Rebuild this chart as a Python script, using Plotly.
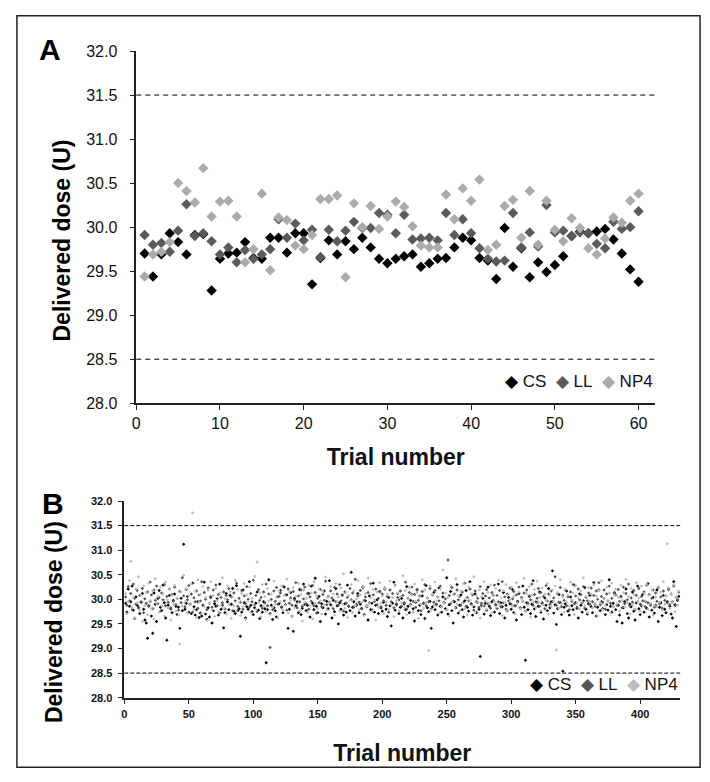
import plotly.graph_objects as go

# ---- panel A: first 60 trials ----
trial_a = list(range(1, 61))
cs_a = [29.70, 29.44, 29.69, 29.93, 29.83, 29.69, 29.91, 29.92, 29.28, 29.64,
        29.70, 29.71, 29.83, 29.65, 29.64, 29.88, 29.88, 29.71, 29.93, 29.93,
        29.35, 29.65, 29.85, 29.69, 29.84, 29.75, 29.88, 29.77, 29.64, 29.59,
        29.64, 29.67, 29.69, 29.55, 29.59, 29.64, 29.65, 29.77, 29.88, 29.85,
        29.65, 29.62, 29.41, 29.99, 29.55, 29.76, 29.43, 29.60, 29.49, 29.57,
        29.67, 29.90, 29.95, 29.93, 29.95, 29.98, 29.86, 29.70, 29.52, 29.38]
ll_a = [29.91, 29.80, 29.82, 29.72, 29.96, 30.26, 29.90, 29.93, 29.84, 29.69,
        29.77, 29.60, 29.74, 29.64, 29.69, 29.75, 30.09, 29.88, 30.04, 29.85,
        29.97, 29.66, 29.97, 29.84, 29.96, 30.06, 29.99, 29.99, 30.16, 30.14,
        29.93, 30.14, 29.86, 29.87, 29.88, 29.85, 30.16, 29.91, 30.09, 29.93,
        29.76, 29.64, 29.61, 29.62, 30.16, 29.77, 29.94, 29.78, 30.25, 29.94,
        29.96, 29.90, 29.94, 29.93, 29.81, 29.76, 30.06, 29.98, 30.00, 30.18]
np4_a = [29.44, 29.69, 29.72, 29.83, 30.50, 30.41, 30.28, 30.67, 30.12, 30.29,
         30.30, 30.12, 29.60, 29.75, 30.38, 29.51, 30.11, 30.08, 29.79, 29.75,
         29.91, 30.32, 30.32, 30.36, 29.43, 30.27, 30.00, 30.24, 29.98, 30.12,
         30.29, 30.23, 30.01, 29.79, 29.77, 29.77, 30.37, 30.09, 30.44, 30.30,
         30.54, 29.74, 29.80, 30.24, 30.31, 29.88, 30.41, 29.80, 30.30, 29.97,
         29.84, 30.10, 29.99, 29.76, 29.69, 29.87, 30.11, 30.05, 30.30, 30.38]

# ---- panel B: all 430 trials ----
cs_b = [29.92, 29.74, 30.21, 29.86, 29.95, 30.27, 29.78, 29.61, 30.05, 29.88, 29.83, 29.71, 29.94, 30.12, 29.80, 29.58, 29.52, 29.21, 29.87, 29.96,
        29.66, 29.31, 30.13, 29.90, 29.55, 30.02, 30.18, 29.84, 29.77, 30.29, 29.93, 29.62, 29.17, 29.88, 30.08, 29.81, 29.73, 29.98, 30.11, 29.86,
        29.69, 29.84, 29.41, 30.02, 29.77, 31.12, 29.80, 29.92, 30.06, 29.74, 29.90, 29.71, 30.33, 29.85, 29.68, 29.79, 29.95, 29.63, 29.72, 29.66,
        29.88, 30.35, 29.70, 29.59, 29.83, 29.64, 30.04, 29.52, 29.77, 29.91, 29.86, 30.01, 29.68, 30.31, 29.80, 29.88, 29.42, 29.73, 30.12, 29.95,
        29.79, 30.08, 29.90, 30.22, 29.76, 29.71, 30.28, 29.77, 29.81, 29.25, 29.74, 30.19, 29.93, 29.62, 29.85, 29.80, 30.36, 29.88, 29.75, 29.69,
        29.83, 29.92, 30.15, 29.78, 29.61, 29.87, 29.74, 29.95, 29.81, 28.71, 29.79, 30.40, 29.71, 29.88, 29.59, 29.83, 29.77, 29.64, 30.05, 29.91,
        30.18, 29.84, 29.73, 30.25, 29.89, 30.09, 29.41, 29.80, 30.14, 29.66, 29.35, 30.02, 29.87, 29.95, 29.73, 30.20, 29.69, 29.82, 30.31, 29.90,
        29.77, 29.88, 30.12, 29.64, 30.27, 29.92, 29.79, 30.43, 29.86, 29.73, 30.06, 29.55, 29.91, 29.83, 30.17, 29.70, 29.96, 29.81, 30.38, 29.89,
        29.62, 29.98, 29.75, 30.22, 29.87, 29.50, 29.93, 29.80, 30.09, 29.68, 29.91, 29.74, 30.29, 29.86, 29.77, 30.55, 29.84, 29.95, 29.66, 29.88,
        30.12, 29.73, 29.90, 29.81, 30.24, 29.69, 29.97, 29.85, 29.58, 30.07, 29.79, 29.92, 30.33, 29.74, 29.88, 29.99, 29.71, 30.16, 29.83, 29.76,
        29.94, 30.21, 29.80, 29.65, 30.04, 29.87, 29.46, 29.92, 30.35, 29.78, 29.89, 30.12, 29.71, 29.84, 30.02, 29.62, 29.91, 29.79, 30.26, 29.86,
        29.73, 29.98, 30.10, 29.81, 29.56, 29.94, 30.19, 29.77, 29.88, 29.69, 30.07, 29.92, 29.61, 30.28, 29.83, 29.75, 29.96, 29.41, 29.85, 30.14,
        29.79, 29.90, 29.68, 30.23, 29.86, 29.74, 30.05, 29.93, 29.81, 30.44, 29.70, 29.89, 30.16, 29.77, 29.52, 29.95, 29.83, 30.30, 29.72, 29.88,
        30.09, 29.79, 29.64, 29.97, 30.18, 29.84, 29.76, 30.36, 29.91, 29.68, 29.85, 30.11, 29.73, 29.94, 29.80, 28.84, 29.88, 30.02, 29.70, 29.92,
        29.78, 30.25, 29.86, 29.67, 29.95, 30.08, 29.74, 29.89, 29.82, 30.31, 29.71, 29.93, 29.85, 30.14, 29.62, 29.88, 29.77, 30.04, 29.91, 29.80,
        30.20, 29.73, 29.87, 29.58, 29.96, 30.12, 29.82, 29.69, 30.27, 29.84, 28.76, 29.93, 29.79, 30.06, 29.71, 29.90, 30.38, 29.81, 29.65, 29.94,
        29.86, 30.15, 29.74, 29.92, 29.60, 30.03, 29.88, 29.77, 30.22, 29.83, 29.95, 30.58, 29.72, 29.89, 29.49, 29.81, 30.10, 29.93, 29.69, 28.54,
        29.84, 29.91, 30.17, 29.76, 29.68, 30.05, 29.87, 29.79, 30.29, 29.93, 29.82, 29.62, 30.11, 29.88, 29.74, 29.97, 30.24, 29.80, 29.70, 29.91,
        30.08, 29.85, 29.73, 30.34, 29.90, 29.66, 29.84, 30.19, 29.77, 29.95, 29.81, 30.02, 29.69, 29.89, 29.78, 30.40, 29.86, 29.74, 29.92, 30.13,
        29.79, 29.55, 29.88, 29.68, 30.06, 29.52, 29.83, 29.95, 30.21, 29.71, 29.62, 29.90, 29.85, 30.15, 29.76, 29.58, 29.93, 30.27, 29.81, 29.69,
        29.87, 30.10, 29.74, 29.96, 29.82, 30.32, 29.64, 29.91, 29.78, 30.04, 29.72, 29.88, 30.19, 29.55, 29.84, 29.93, 29.67, 30.08, 29.80, 29.73,
        29.95, 30.22, 29.86, 29.70, 29.62, 30.36, 29.89, 29.45, 29.98, 30.06]
ll_b = [30.05, 29.88, 30.26, 29.97, 30.12, 29.79, 30.31, 30.02, 29.90, 30.18, 29.84, 30.08, 29.95, 30.22, 29.73, 30.01, 29.92, 30.15, 29.86, 30.35,
        30.09, 29.81, 30.19, 29.98, 30.27, 29.91, 30.04, 29.76, 30.13, 29.99, 30.30, 29.87, 30.06, 29.94, 30.21, 29.83, 30.10, 29.96, 30.25, 29.89,
        30.02, 29.78, 30.16, 29.93, 30.44, 30.07, 29.85, 30.20, 29.99, 30.28, 29.90, 30.11, 29.74, 30.03, 29.95, 30.17, 29.82, 30.09, 29.97, 30.36,
        29.88, 30.14, 30.00, 29.79, 30.23, 29.92, 30.06, 29.84, 30.19, 29.96, 30.29, 29.87, 30.10, 29.73, 30.04, 29.93, 30.15, 29.81, 30.08, 29.99,
        30.22, 29.90, 30.05, 29.77, 30.13, 29.97, 30.33, 29.86, 30.02, 29.94, 30.18, 29.80, 30.07, 29.91, 30.26, 30.00, 29.84, 30.12, 29.95, 30.39,
        29.89, 30.08, 29.75, 30.20, 29.98, 30.04, 29.82, 30.15, 29.93, 30.31, 29.87, 30.11, 29.02, 30.00, 29.79, 30.17, 29.96, 30.24, 29.90, 30.06,
        30.13, 29.85, 30.27, 29.97, 30.09, 29.78, 30.21, 29.92, 30.03, 29.88, 30.16, 29.99, 30.34, 29.83, 30.07, 29.95, 30.19, 29.86, 30.01, 30.25,
        29.91, 30.12, 29.80, 30.05, 29.96, 30.28, 29.87, 30.14, 29.72, 30.02, 29.93, 30.20, 29.85, 30.10, 29.98, 30.37, 29.89, 30.06, 29.94, 30.17,
        30.03, 29.81, 30.24, 29.95, 30.11, 29.88, 30.30, 29.97, 30.08, 29.76, 30.15, 29.92, 30.04, 29.86, 30.22, 29.99, 30.13, 29.84, 30.41, 29.90,
        30.07, 29.94, 30.18, 29.82, 30.26, 29.98, 30.05, 29.87, 30.14, 29.93, 30.32, 29.79, 30.09, 29.96, 30.21, 29.89, 30.02, 30.16, 29.85, 30.11,
        29.97, 30.23, 29.88, 30.06, 29.74, 30.19, 29.95, 30.12, 29.83, 30.29, 29.91, 30.04, 29.99, 30.17, 29.86, 30.08, 29.93, 30.35, 29.80, 30.02,
        30.14, 29.90, 30.25, 29.96, 30.10, 29.84, 30.20, 29.98, 30.07, 29.77, 30.16, 29.92, 30.30, 29.87, 30.03, 29.95, 30.22, 29.81, 30.09, 29.94,
        30.18, 29.89, 30.05, 29.97, 30.27, 29.85, 30.13, 29.93, 30.01, 29.79, 30.80, 30.08, 29.91, 30.24, 29.96, 30.11, 29.83, 30.19, 29.99, 30.06,
        29.88, 30.15, 29.94, 30.33, 29.86, 30.04, 29.97, 30.21, 29.90, 30.09, 29.78, 30.17, 29.95, 30.02, 29.84, 30.26, 29.92, 30.12, 29.87, 30.07,
        30.20, 29.91, 30.03, 29.82, 30.14, 29.98, 30.29, 29.89, 30.08, 29.95, 30.18, 29.85, 30.36, 29.93, 30.05, 29.80, 30.11, 29.97, 30.23, 29.90,
        30.01, 30.16, 29.87, 30.09, 29.94, 30.25, 29.83, 30.04, 29.96, 30.13, 29.76, 30.19, 29.92, 30.07, 29.99, 30.31, 29.88, 30.10, 29.95, 30.02,
        30.22, 29.86, 30.14, 29.93, 30.06, 29.81, 30.28, 29.97, 30.11, 29.90, 30.17, 29.95, 30.03, 30.46, 29.88, 30.12, 29.94, 30.24, 29.85, 30.08,
        29.98, 30.19, 29.87, 30.05, 29.79, 30.15, 29.96, 30.30, 29.91, 30.07, 29.84, 30.21, 29.99, 30.10, 29.93, 30.26, 29.82, 30.04, 29.97, 30.13,
        29.90, 30.23, 29.95, 30.08, 29.86, 30.17, 30.00, 30.34, 29.89, 30.06, 29.94, 30.19, 29.80, 30.11, 29.97, 30.27, 29.92, 30.02, 29.85, 30.14,
        30.09, 29.88, 30.20, 29.96, 30.05, 29.83, 30.25, 29.91, 30.12, 29.99, 30.31, 29.87, 30.03, 29.94, 30.18, 29.79, 30.08, 29.95, 30.22, 29.90,
        30.06, 29.97, 30.15, 29.85, 30.29, 29.93, 30.10, 29.88, 30.02, 30.19, 29.84, 30.13, 29.96, 30.24, 29.91, 30.05, 29.82, 30.17, 29.98, 30.07,
        29.93, 30.20, 29.89, 30.11, 29.95, 30.27, 29.87, 30.04, 29.99, 30.15]
np4_b = [30.12, 29.71, 29.95, 30.38, 30.77, 29.84, 30.05, 29.62, 30.21, 29.93, 30.46, 29.78, 30.09, 29.55, 30.27, 29.88, 30.14, 29.69, 30.33, 29.97,
         29.81, 30.18, 29.60, 30.42, 29.92, 30.06, 29.74, 30.25, 29.87, 30.11, 29.66, 30.35, 29.99, 29.83, 30.20, 29.58, 30.08, 29.90, 30.29, 29.76,
         30.03, 29.68, 29.09, 30.15, 29.86, 30.49, 29.95, 30.22, 29.73, 30.07, 29.89, 30.31, 31.76, 29.80, 30.17, 29.63, 30.40, 29.94, 30.10, 29.71,
         30.26, 29.85, 30.04, 29.57, 30.19, 29.92, 30.36, 29.79, 30.08, 29.65, 30.23, 29.98, 29.74, 30.13, 29.88, 30.44, 29.82, 30.01, 29.70, 30.28,
         29.91, 30.16, 29.61, 30.05, 29.87, 30.39, 29.76, 30.20, 29.94, 29.67, 30.12, 29.85, 30.32, 29.59, 30.09, 29.96, 30.25, 29.73, 30.02, 29.89,
         30.47, 29.80, 30.76, 29.93, 30.14, 29.64, 30.30, 29.86, 30.06, 29.75, 30.22, 29.97, 29.69, 30.11, 29.84, 30.37, 29.90, 30.04, 29.62, 30.18,
         29.95, 30.27, 29.78, 30.08, 29.88, 30.41, 29.72, 30.15, 29.99, 29.66, 30.24, 29.83, 30.06, 29.91, 30.33, 29.77, 30.10, 29.56, 30.19, 29.94,
         30.02, 29.74, 30.29, 29.87, 30.13, 29.60, 30.36, 29.92, 30.07, 29.81, 30.21, 29.97, 29.70, 30.16, 29.89, 30.45, 29.79, 30.04, 29.93, 30.26,
         29.85, 30.11, 29.68, 30.32, 29.96, 30.05, 29.76, 30.23, 29.90, 30.52, 29.82, 30.14, 29.63, 30.08, 29.98, 30.30, 29.73, 30.17, 29.88, 30.01,
         30.38, 29.79, 30.09, 29.94, 30.25, 29.67, 30.12, 29.86, 30.43, 29.91, 30.03, 29.75, 30.20, 29.99, 29.58, 30.15, 29.84, 30.34, 29.92, 30.07,
         29.71, 30.22, 29.95, 30.10, 29.80, 30.37, 29.89, 30.04, 29.65, 30.28, 29.97, 30.13, 29.77, 30.06, 29.93, 30.48, 29.83, 30.18, 29.69, 30.01,
         30.24, 29.87, 30.09, 29.74, 30.31, 29.96, 30.14, 29.61, 30.05, 29.90, 30.40, 29.82, 30.19, 29.94, 30.02, 28.96, 30.27, 29.78, 30.11, 29.88,
         30.35, 29.97, 30.06, 29.72, 30.21, 29.85, 30.60, 29.92, 30.13, 29.79, 30.04, 29.66, 30.28, 29.95, 30.10, 29.83, 30.42, 29.90, 30.07, 29.76,
         30.17, 29.93, 30.32, 29.81, 30.02, 29.68, 30.25, 29.98, 30.11, 29.87, 30.46, 29.74, 30.08, 29.95, 30.19, 29.62, 30.05, 29.89, 30.36, 29.97,
         29.80, 30.14, 29.91, 30.29, 29.73, 30.07, 29.96, 30.22, 29.84, 30.39, 29.90, 30.03, 29.67, 30.18, 29.94, 30.30, 29.78, 30.10, 29.99, 30.25,
         29.86, 30.06, 29.71, 30.34, 29.92, 30.15, 29.81, 30.01, 29.97, 30.43, 29.75, 30.12, 29.88, 30.26, 29.64, 30.09, 29.95, 30.20, 29.83, 30.37,
         29.93, 30.04, 29.77, 30.23, 29.89, 30.11, 29.98, 30.32, 29.70, 30.08, 29.85, 30.19, 29.96, 30.27, 28.97, 30.14, 29.82, 30.40, 29.91, 30.05,
         29.74, 30.21, 29.94, 30.09, 29.86, 30.35, 29.99, 30.13, 29.69, 30.28, 29.92, 30.03, 29.80, 30.17, 29.95, 30.44, 29.87, 30.06, 29.73, 30.24,
         29.97, 30.11, 29.83, 30.30, 29.90, 30.07, 29.66, 30.18, 29.94, 30.38, 29.79, 30.02, 29.88, 30.25, 29.96, 30.13, 29.72, 30.33, 29.85, 30.08,
         30.20, 29.91, 30.05, 29.77, 30.29, 29.98, 30.14, 29.84, 30.41, 29.93, 30.06, 29.70, 30.22, 29.89, 30.10, 29.81, 30.34, 29.95, 30.03, 29.76,
         30.27, 29.87, 30.12, 29.97, 30.31, 29.80, 30.08, 29.92, 30.19, 29.68, 29.88, 30.04, 29.85, 30.26, 29.94, 30.15, 29.78, 30.36, 29.90, 30.07,
         31.13, 30.23, 29.82, 30.10, 29.93, 30.30, 29.75, 30.05, 29.88, 30.17]
trial_b = list(range(1, len(cs_b) + 1))

series = ["CS", "LL", "NP4"]
colors_a = ["#000000", "#5a5a5a", "#ababab"]
colors_b = ["#000000", "#555555", "#bdbdbd"]
limits = [28.5, 31.5]

FONT = "Liberation Sans, Arial, sans-serif"
W, H = 710, 782   # reference size, positions below are fractions of it

fig = go.Figure()

for name, col, vals in zip(series, colors_a, [cs_a, ll_a, np4_a]):
    fig.add_trace(go.Scatter(x=trial_a, y=vals, name=name, mode="markers",
                             marker=dict(symbol="diamond", size=8, color=col),
                             xaxis="x", yaxis="y", showlegend=False))

for name, col, vals in zip(series, colors_b, [cs_b, ll_b, np4_b]):
    fig.add_trace(go.Scatter(x=trial_b, y=vals, name=name, mode="markers",
                             marker=dict(symbol="diamond", size=2.6, color=col),
                             xaxis="x2", yaxis="y2", showlegend=False))

# spec limits
for lim in limits:
    for ax, dash in [("", "5px,4px"), ("2", "4px,2px")]:
        fig.add_shape(type="line", xref="x%s domain" % ax, yref="y" + ax,
                      x0=0, x1=1, y0=lim, y1=lim,
                      line=dict(color="black", width=1, dash=dash))

# frame round the whole figure
fig.add_shape(type="rect", xref="paper", yref="paper",
              x0=13 / W, x1=700 / W, y0=1 - 776 / H, y1=1 - 8 / H,
              line=dict(color="#222", width=1.5))


def legend_text(cols):
    parts = ["<span style='color:%s'>◆</span>&nbsp;%s" % (c, n) for n, c in zip(series, cols)]
    return "&nbsp; ".join(parts)


def ann(text, x, y, **kw):
    return dict(text=text, x=x / W, y=1 - y / H, xref="paper", yref="paper",
                showarrow=False, xanchor=kw.pop("xanchor", "center"),
                yanchor=kw.pop("yanchor", "middle"), **kw)


axis_common = dict(showline=True, linecolor="#222", linewidth=1.5,
                   ticks="outside", tickcolor="#222", ticklen=5,
                   showgrid=False, zeroline=False)

fig.update_layout(
    autosize=True,
    margin=dict(l=0, r=0, t=0, b=0),
    plot_bgcolor="white", paper_bgcolor="white",
    font=dict(family=FONT, color="#111"),
    showlegend=False,
    xaxis=dict(domain=[133 / W, 655 / W], anchor="y", range=[0, 62], dtick=10,
               tickfont=dict(size=16),
               title=dict(text="<b>Trial number</b>", font=dict(size=23), standoff=18),
               **axis_common),
    yaxis=dict(domain=[1 - 404 / H, 1 - 44 / H], anchor="x", range=[28, 32], dtick=0.5,
               tickformat=".1f", tickfont=dict(size=16), ticklabelstandoff=9,
               **axis_common),
    xaxis2=dict(domain=[121 / W, 680 / W], anchor="y2", range=[0, 431], dtick=50,
                tickfont=dict(size=11, weight="bold"),
                title=dict(text="<b>Trial number</b>", font=dict(size=23), standoff=26),
                **axis_common),
    yaxis2=dict(domain=[1 - 705 / H, 1 - 504 / H], anchor="x2", range=[28, 32], dtick=0.5,
                tickformat=".1f", tickfont=dict(size=11, weight="bold"), ticklabelstandoff=3,
                **axis_common),
    annotations=[
        ann("<b>A</b>", 46, 42, font=dict(size=30, color="black")),
        ann("<b>B</b>", 49, 506, font=dict(size=30, color="black")),
        ann("<b>Delivered dose (U)</b>", 58, 238, textangle=-90,
            font=dict(size=23, color="black")),
        ann("<b>Delivered dose (U)</b>", 51, 628, textangle=-90,
            font=dict(size=23, color="black")),
        ann(legend_text(colors_a), 655, 382, xanchor="right", font=dict(size=17)),
        ann(legend_text(colors_b), 680, 692, xanchor="right", font=dict(size=17)),
    ],
)

fig.write_html(
    "out.html",
    default_width="100vw", default_height="100vh",
    config={"displayModeBar": False, "responsive": True},
    post_script=("document.documentElement.style.overflow='hidden';"
                 "document.body.style.margin='0';"
                 "Plotly.Plots.resize(document.getElementById('{plot_id}'));"),
)
